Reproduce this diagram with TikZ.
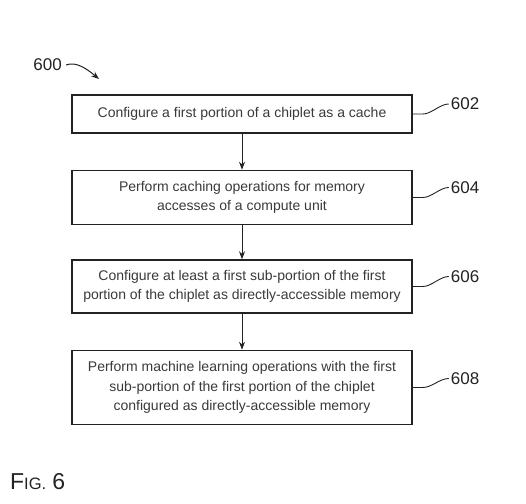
\documentclass[tikz,border=0pt]{standalone}
\usepackage{fontspec}
\setmainfont{Liberation Sans}
\usepackage{xcolor}
\usepackage{tikz}
\usetikzlibrary{positioning,arrows.meta}
\definecolor{figInk}{HTML}{222222}
\definecolor{figText}{HTML}{3A3A3A}

\begin{document}
\begin{tikzpicture}[
  x=1pt, y=-1pt,
  node distance=35pt,
  stepbox/.style={
    rectangle, draw=figInk, line width=1.5pt, fill=white,
    minimum width=340pt, inner sep=0pt,
    font=\fontsize{14}{19.5}\selectfont, align=center,
    text=figText
  },
  reflabel/.style={
    anchor=west, inner sep=2pt,
    font=\fontsize{17}{17}\selectfont, text=figInk
  },
  squig/.style={figInk, line width=0.9pt},
  arr/.style={-{Stealth[length=8pt,width=6pt]}, figInk, line width=0.9pt}
]
\useasboundingbox (0,0) rectangle (526,503);

% Steps
\node[stepbox, minimum height=38pt] (b602) at (242,114)
  {Configure a first portion of a chiplet as a cache};
\node[stepbox, minimum height=54pt, below=36pt of b602] (b604)
  {Perform caching operations for memory\\accesses of a compute unit};
\node[stepbox, minimum height=53pt, below=34pt of b604] (b606)
  {Configure at least a first sub-portion of the first\\portion of the chiplet as directly-accessible memory};
\node[stepbox, minimum height=74pt, below=36pt of b606] (b608)
  {Perform machine learning operations with the first\\sub-portion of the first portion of the chiplet\\configured as directly-accessible memory};

% Reference numerals
\node[reflabel] (l602) at ([shift={(36,-10)}]b602.east) {602};
\node[reflabel] (l604) at ([shift={(36,-10)}]b604.east) {604};
\node[reflabel] (l606) at ([shift={(36,-10)}]b606.east) {606};
\node[reflabel] (l608) at ([shift={(36,-9)}]b608.east) {608};

\draw[squig] (b602.east) -- ++(10,0) .. controls +(9,0) and +(-9,0) .. (l602.west);
\draw[squig] (b604.east) -- ++(10,0) .. controls +(9,0) and +(-9,0) .. (l604.west);
\draw[squig] (b606.east) -- ++(10,0) .. controls +(9,0) and +(-9,0) .. (l606.west);
\draw[squig] (b608.east) -- ++(10,0) .. controls +(9,0) and +(-9,0) .. (l608.west);

% Arrows
\draw[arr] (b602) -- (b604);
\draw[arr] (b604) -- (b606);
\draw[arr] (b606) -- (b608);

% Figure number
\node[reflabel, anchor=east] (l600) at (64,65) {600};
\coordinate (c600) at (99,79);
\draw[arr, line width=1pt] ([xshift=2pt]l600.east) .. controls +(10,-4) and +(-12,-10) .. (c600);

\node[anchor=base west, inner sep=0pt, text=figInk] (fig) at (10,489)
  {\fontsize{23}{23}\selectfont F\fontsize{16.5}{16.5}\selectfont IG.\hspace{6pt}\fontsize{23}{23}\selectfont 6};

\end{tikzpicture}
\end{document}
